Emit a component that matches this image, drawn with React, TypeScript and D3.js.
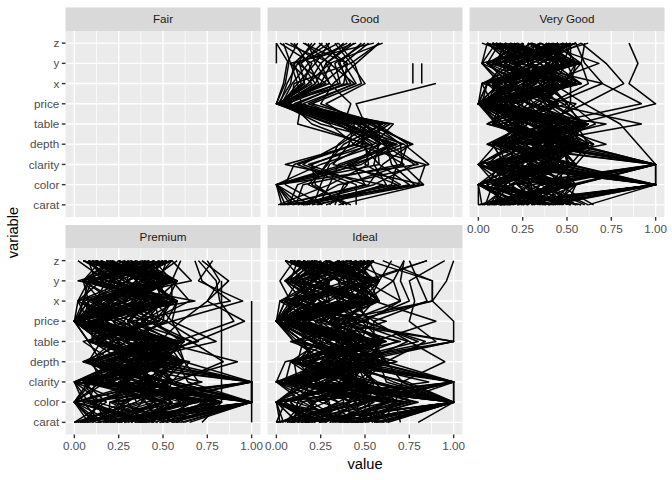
import React, { useEffect, useRef } from "react";
import * as d3 from "d3";

// values are scaled 0..100 (shown as 0..1); order follows `variables`
const variables = ["carat", "color", "clarity", "depth", "table", "price", "x", "y", "z"];
const cuts = ["Fair", "Good", "Very Good", "Premium", "Ideal"];
const xTicks = [0, 0.25, 0.5, 0.75, 1];
const xMinor = [0.125, 0.375, 0.625, 0.875];

const fairRows: (number | null)[][] = [];

const goodRows: (number | null)[][] = [
  [8, 0, 48, 66, 48, 2, 14, 10, 22],
  [21, 25, 30, 52, 35, 1, 30, 25, 8],
  [4, 83, 71, 70, 55, 3, 9, 18, 40],
  [30, 40, 12, 45, 62, 12, 38, 40, 15],
  [12, 55, 78, 60, 40, 1, 20, 8, 55],
  [3, 0, 42, 77, 52, 2, 6, 12, 30],
  [17, 62, 55, 58, 58, 5, 25, 31, 5],
  [26, 5, 10, 44, 30, 0, 42, 35, 48],
  [6, 78, 65, 62, 45, 3, 12, 22, 18],
  [40, 20, 28, 38, 60, 20, 48, 44, 35],
  [14, 35, 86, 72, 38, 1, 18, 30, 60],
  [2, 50, 18, 55, 66, 0, 4, 6, 12],
  [19, 0, 58, 48, 50, 6, 35, 28, 42],
  [9, 68, 40, 68, 25, 2, 15, 20, 2],
  [35, 83, 32, 41, 44, 15, 45, 38, 52],
  [11, 15, 70, 74, 57, 3, 22, 14, 26],
  [24, 30, 52, 50, 20, 8, 10, 42, 33],
  [5, 0, 80, 63, 46, 1, 28, 12, 20],
  [45, 45, 15, 36, 53, 25, 32, 45, 58],
  [15, 75, 58, 57, 35, 4, 24, 18, 10],
  [7, 12, 45, 71, 49, 1, 8, 10, 45],
  [28, 60, 5, 46, 64, 10, 40, 36, 28],
  [13, 0, 25, 59, 42, 2, 18, 25, 38],
  [33, 38, 72, 52, 12, 14, 12, 8, 4],
  [3, 52, 60, 76, 54, 0, 36, 33, 50],
  [20, 80, 84, 43, 59, 7, 26, 40, 24],
  [10, 0, 38, 65, 37, 2, 16, 13, 35],
  [38, 22, 20, 49, 47, 18, 44, 30, 16],
  [16, 65, 68, 61, 50, 5, 22, 28, 44],
  [1, 30, 35, 68, 32, 0, 5, 7, 0],
  [23, 70, 50, 54, 38, 42, 30, 22, 30],
  [15, 50, 43, 58, 50, 45, 90, null, null],
  [42, 18, 29, 35, 48, 28, 50, 42, 58],
  [null, null, null, null, null, null, 77, 77, null],
  [null, null, null, null, null, null, 82, 82, null],
  [null, null, null, null, null, null, null, 0, 0],
];

const veryGoodRows: (number | null)[][] = [
  [5, 100, 12, 38, 20, 0, 44, 8, 30],
  [32, 8, 45, 15, 52, 28, 10, 40, 5],
  [18, 40, 0, 55, 8, 12, 33, 22, 48],
  [47, 22, 100, 30, 41, 3, 55, 50, 18],
  [2, 55, 28, 48, 35, 0, 5, 15, 40],
  [25, 0, 38, 22, 60, 40, 28, 52, 12],
  [40, 100, 52, 8, 25, 18, 48, 30, 52],
  [10, 30, 20, 62, 45, 0, 18, 5, 25],
  [55, 12, 48, 40, 12, 50, 38, 68, 35],
  [22, 47, 5, 28, 55, 8, 2, 25, 8],
  [8, 18, 100, 52, 30, 22, 40, 45, 22],
  [36, 100, 35, 18, 48, 0, 22, 12, 55],
  [15, 5, 55, 45, 5, 35, 50, 35, 2],
  [60, 35, 15, 72, 38, 10, 12, 48, 42],
  [3, 50, 42, 10, 58, 0, 30, 20, 15],
  [28, 0, 25, 35, 22, 45, 8, 55, 28],
  [45, 25, 0, 55, 50, 5, 45, 10, 50],
  [12, 100, 50, 25, 15, 28, 25, 40, 10],
  [33, 42, 10, 48, 62, 0, 55, 28, 32],
  [6, 15, 32, 5, 28, 15, 15, 2, 45],
  [50, 55, 100, 38, 66, 52, 35, 50, 20],
  [20, 0, 22, 58, 10, 2, 5, 30, 55],
  [38, 28, 45, 12, 55, 30, 48, 18, 5],
  [14, 100, 8, 42, 35, 0, 20, 55, 38],
  [0, 45, 38, 30, 20, 40, 40, 8, 22],
  [42, 10, 55, 65, 48, 12, 10, 42, 48],
  [25, 35, 0, 20, 58, 0, 52, 25, 12],
  [9, 52, 28, 50, 8, 25, 28, 52, 30],
  [58, 0, 15, 8, 40, 55, 2, 35, 58],
  [30, 100, 100, 45, 30, 8, 45, 15, 18],
  [17, 20, 40, 32, 62, 0, 12, 48, 42],
  [48, 38, 5, 58, 18, 42, 70, 22, 8],
  [4, 8, 52, 15, 45, 18, 32, 5, 35],
  [35, 48, 18, 40, 25, 0, 18, 40, 50],
  [22, 100, 35, 62, 55, 32, 50, 30, 25],
  [52, 0, 48, 25, 12, 10, 8, 58, 10],
  [11, 30, 22, 52, 38, 0, 38, 12, 45],
  [40, 15, 0, 10, 60, 48, 25, 45, 30],
  [7, 55, 45, 38, 22, 5, 55, 25, 55],
  [28, 42, 100, 55, 48, 22, 15, 50, 15],
  [62, 100, 30, 20, 35, 60, 42, 35, 40],
  [15, 5, 12, 45, 52, 0, 5, 18, 22],
  [44, 25, 52, 62, 15, 35, 48, 55, 48],
  [1, 50, 8, 28, 42, 2, 28, 2, 5],
  [32, 18, 38, 48, 58, 15, 58, 30, 35],
  [20, 0, 55, 12, 28, 0, 12, 52, 52],
  [55, 38, 20, 35, 8, 45, 35, 22, 62],
  [12, 100, 42, 58, 50, 10, 22, 40, 8],
  [38, 10, 0, 22, 20, 0, 45, 10, 42],
  [6, 45, 28, 42, 62, 28, 8, 48, 28],
  [46, 30, 100, 5, 38, 12, 52, 25, 55],
  [24, 52, 15, 52, 15, 0, 20, 55, 15],
  [0, 0, 48, 30, 55, 38, 35, 15, 35],
  [35, 22, 32, 65, 30, 5, 10, 35, 50],
  [16, 100, 5, 18, 45, 22, 55, 5, 12],
  [50, 40, 50, 48, 10, 0, 25, 52, 40],
  [10, 12, 22, 38, 58, 50, 40, 28, 25],
  [30, 55, 100, 10, 25, 18, 5, 45, 5],
  [58, 0, 38, 55, 40, 0, 50, 18, 55],
  [19, 28, 0, 25, 52, 32, 18, 58, 30],
  [42, 100, 45, 45, 18, 8, 32, 10, 18],
  [3, 18, 12, 60, 35, 0, 58, 42, 45],
  [27, 48, 55, 15, 60, 42, 15, 22, 10],
  [52, 8, 28, 42, 22, 15, 42, 50, 38],
  [13, 35, 100, 32, 48, 0, 28, 15, 52],
  [40, 0, 40, 58, 5, 25, 8, 35, 22],
  [8, 100, 18, 20, 42, 52, 52, 55, 8],
  [34, 22, 50, 50, 28, 2, 22, 5, 48],
  [65, 45, 8, 35, 55, 100, 85, 90, 85],
  [21, 15, 35, 8, 38, 10, 38, 28, 28],
  [45, 52, 0, 62, 15, 0, 12, 48, 12],
  [2, 0, 45, 40, 50, 35, 45, 20, 55],
  [30, 30, 22, 28, 62, 0, 2, 52, 35],
  [14, 100, 100, 55, 20, 20, 55, 10, 15],
  [48, 10, 15, 12, 45, 8, 30, 42, 50],
  [25, 42, 52, 45, 30, 45, 18, 22, 5],
  [56, 25, 30, 25, 72, 0, 48, 58, 42],
  [5, 50, 5, 60, 8, 15, 8, 30, 22],
  [38, 0, 42, 35, 40, 28, 35, 12, 30],
  [17, 100, 20, 50, 55, 0, 22, 48, 52],
  [62, 38, 100, 90, 80, 60, 82, 72, 58],
  [9, 12, 38, 18, 25, 38, 12, 2, 10],
  [43, 55, 12, 48, 50, 5, 58, 38, 40],
  [26, 0, 48, 30, 12, 0, 25, 55, 18],
  [52, 30, 0, 58, 38, 92, 70, 60, 55],
  [12, 100, 28, 22, 60, 12, 42, 20, 45],
  [35, 18, 55, 42, 22, 30, 5, 45, 8],
  [0, 45, 15, 8, 48, 0, 30, 28, 35],
  [28, 8, 35, 55, 32, 18, 50, 10, 25],
  [40, 52, 100, 28, 92, 40, 62, 58, 60],
];

const premiumRows: (number | null)[][] = [
  [12, 100, 30, 45, 8, 0, 40, 15, 35],
  [40, 0, 8, 20, 55, 25, 5, 48, 10],
  [3, 28, 52, 58, 30, 0, 28, 30, 50],
  [28, 68, 15, 10, 42, 40, 50, 5, 22],
  [52, 45, 100, 38, 18, 8, 15, 55, 45],
  [18, 12, 40, 62, 58, 0, 58, 22, 8],
  [35, 100, 0, 28, 25, 18, 20, 40, 30],
  [7, 50, 28, 48, 50, 0, 35, 10, 55],
  [45, 20, 55, 65, 12, 32, 8, 52, 15],
  [22, 83, 10, 35, 60, 12, 45, 35, 40],
  [0, 38, 45, 55, 35, 0, 12, 18, 2],
  [58, 72, 22, 22, 5, 48, 55, 45, 48],
  [15, 5, 100, 42, 45, 5, 22, 58, 25],
  [32, 55, 35, 15, 52, 0, 68, 8, 38],
  [48, 100, 5, 60, 28, 40, 10, 38, 12],
  [10, 30, 48, 30, 58, 15, 48, 25, 50],
  [38, 0, 18, 52, 15, 0, 30, 52, 20],
  [25, 62, 42, 8, 40, 28, 2, 15, 42],
  [5, 15, 0, 45, 22, 0, 55, 42, 5],
  [55, 48, 30, 25, 70, 52, 25, 5, 55],
  [20, 100, 100, 62, 10, 10, 38, 30, 30],
  [42, 8, 12, 38, 48, 0, 15, 55, 18],
  [2, 35, 55, 12, 35, 35, 50, 20, 45],
  [30, 78, 25, 50, 60, 5, 8, 45, 8],
  [60, 22, 45, 28, 20, 55, 45, 12, 52],
  [14, 52, 8, 55, 42, 0, 20, 35, 22],
  [36, 100, 38, 5, 30, 22, 58, 2, 40],
  [8, 0, 100, 40, 52, 0, 30, 50, 12],
  [50, 40, 20, 60, 12, 40, 12, 66, 55],
  [26, 65, 50, 20, 45, 12, 52, 58, 28],
  [0, 18, 5, 48, 28, 0, 5, 10, 35],
  [44, 55, 40, 32, 58, 30, 40, 40, 5],
  [17, 100, 15, 58, 38, 2, 25, 22, 48],
  [33, 10, 52, 15, 8, 45, 55, 55, 20],
  [6, 45, 28, 45, 50, 0, 15, 5, 32],
  [56, 74, 0, 25, 35, 18, 48, 38, 50],
  [20, 25, 70, 62, 55, 8, 2, 30, 15],
  [40, 83, 35, 8, 22, 0, 35, 52, 42],
  [11, 0, 48, 52, 45, 38, 58, 18, 8],
  [48, 100, 12, 35, 60, 5, 20, 45, 55],
  [29, 38, 42, 50, 15, 0, 42, 12, 25],
  [3, 60, 22, 18, 42, 25, 10, 58, 38],
  [53, 12, 55, 42, 30, 50, 52, 28, 10],
  [22, 50, 5, 60, 52, 0, 28, 48, 52],
  [37, 100, 100, 28, 10, 15, 5, 8, 22],
  [9, 30, 30, 45, 58, 0, 50, 35, 45],
  [45, 0, 45, 10, 25, 42, 32, 55, 12],
  [16, 70, 18, 55, 48, 2, 15, 20, 35],
  [62, 40, 38, 32, 62, 55, 58, 42, 58],
  [27, 8, 0, 48, 18, 0, 22, 5, 28],
  [4, 100, 52, 22, 38, 30, 45, 52, 8],
  [42, 55, 25, 58, 45, 8, 8, 30, 42],
  [19, 20, 100, 5, 55, 0, 38, 15, 50],
  [34, 80, 8, 40, 30, 22, 55, 45, 18],
  [58, 45, 42, 55, 8, 48, 18, 58, 32],
  [12, 0, 15, 25, 52, 0, 30, 25, 5],
  [38, 100, 50, 62, 40, 35, 50, 10, 55],
  [0, 35, 30, 15, 60, 0, 2, 42, 25],
  [50, 83, 5, 42, 22, 18, 40, 35, 40],
  [24, 100, 64, 58, 35, 5, 25, 55, 12],
  [6, 15, 40, 30, 50, 0, 52, 20, 48],
  [46, 66, 20, 8, 15, 40, 12, 48, 30],
  [30, 50, 55, 48, 58, 12, 45, 8, 52],
  [15, 0, 10, 20, 42, 0, 20, 38, 15],
  [55, 100, 35, 62, 28, 52, 58, 22, 45],
  [20, 28, 0, 35, 55, 2, 5, 55, 25],
  [72, 83, 52, 92, 48, 60, 75, 87, 72],
  [40, 75, 25, 50, 8, 28, 35, 30, 55],
  [8, 40, 100, 12, 45, 0, 48, 12, 8],
  [35, 10, 45, 55, 38, 18, 15, 50, 40],
  [52, 100, 12, 28, 60, 45, 42, 5, 20],
  [1, 55, 38, 45, 25, 0, 28, 42, 50],
  [28, 63, 50, 5, 52, 10, 55, 28, 12],
  [44, 5, 0, 58, 15, 0, 8, 55, 35],
  [13, 100, 30, 40, 40, 32, 38, 18, 55],
  [58, 22, 72, 22, 58, 8, 50, 45, 5],
  [25, 45, 18, 52, 30, 0, 18, 35, 28],
  [5, 70, 42, 15, 48, 22, 2, 8, 42],
  [47, 0, 8, 60, 12, 48, 45, 58, 18],
  [18, 83, 55, 35, 55, 0, 30, 25, 52],
  [38, 30, 28, 8, 38, 15, 58, 40, 32],
  [60, 100, 100, 50, 62, 42, 20, 52, 10],
  [10, 12, 5, 28, 25, 0, 42, 15, 45],
  [32, 60, 45, 58, 45, 5, 12, 48, 25],
  [50, 52, 22, 18, 55, 35, 52, 30, 55],
  [22, 0, 38, 42, 8, 0, 8, 5, 15],
  [58, 83, 43, 31, 80, 55, 95, 70, 78],
  [65, 100, 29, 36, 68, 96, 75, 82, 75],
  [62, 100, 57, 40, 58, 90, 82, 80, 70],
  [55, 100, 57, 84, 66, 42, 65, 55, 60],
  [46, 67, 14, 46, 66, 32, 88, 72, 68],
  [100, 100, 100, 100, 100, 100, 100, null, null],
  [null, 83, 83, 83, 83, 83, 83, 83, null],
];

const idealRows: (number | null)[][] = [
  [20, 72, 5, 38, 45, 0, 52, 10, 28],
  [5, 15, 48, 12, 22, 35, 8, 55, 45],
  [42, 40, 100, 55, 58, 8, 30, 25, 8],
  [12, 0, 20, 28, 10, 0, 45, 40, 50],
  [55, 100, 38, 48, 38, 45, 15, 5, 20],
  [28, 30, 0, 5, 55, 10, 58, 48, 35],
  [0, 52, 55, 42, 30, 0, 22, 30, 5],
  [35, 64, 12, 62, 48, 28, 40, 15, 55],
  [15, 8, 42, 22, 15, 0, 5, 58, 22],
  [48, 45, 28, 50, 60, 40, 50, 66, 40],
  [8, 100, 100, 35, 25, 5, 28, 8, 12],
  [38, 20, 8, 58, 42, 0, 12, 52, 48],
  [22, 0, 50, 15, 70, 22, 55, 22, 30],
  [60, 100, 22, 40, 8, 50, 35, 45, 10],
  [3, 38, 35, 55, 40, 0, 2, 28, 52],
  [30, 55, 5, 8, 58, 15, 48, 10, 25],
  [45, 78, 45, 45, 20, 0, 20, 55, 42],
  [10, 12, 100, 30, 52, 30, 42, 38, 8],
  [52, 60, 15, 60, 35, 8, 8, 18, 55],
  [25, 0, 52, 20, 48, 0, 52, 50, 18],
  [80, 100, 43, 30, 100, 100, 88, 96, 100],
  [18, 42, 25, 52, 12, 42, 25, 5, 38],
  [40, 100, 0, 35, 55, 5, 58, 42, 12],
  [6, 22, 40, 12, 38, 0, 15, 25, 50],
  [50, 50, 10, 68, 28, 25, 40, 55, 28],
  [32, 68, 55, 25, 60, 0, 5, 12, 45],
  [0, 5, 30, 48, 42, 18, 48, 48, 5],
  [44, 100, 66, 40, 15, 48, 28, 30, 40],
  [14, 35, 18, 62, 50, 0, 55, 8, 22],
  [58, 0, 48, 10, 30, 35, 12, 58, 52],
  [24, 75, 5, 45, 58, 10, 38, 35, 15],
  [9, 48, 38, 30, 22, 0, 52, 20, 35],
  [36, 15, 0, 55, 45, 28, 20, 45, 55],
  [62, 100, 71, 95, 75, 55, 85, 80, 75],
  [16, 100, 52, 18, 35, 0, 8, 2, 10],
  [46, 28, 22, 42, 58, 40, 70, 50, 42],
  [2, 0, 100, 52, 10, 0, 30, 28, 25],
  [30, 62, 12, 35, 48, 15, 58, 12, 50],
  [54, 52, 45, 8, 25, 62, 15, 55, 8],
  [20, 8, 28, 60, 55, 0, 42, 38, 38],
  [38, 100, 0, 28, 40, 22, 2, 22, 20],
  [7, 40, 55, 45, 15, 0, 50, 48, 52],
  [48, 70, 35, 15, 60, 8, 25, 8, 30],
  [26, 0, 15, 58, 38, 35, 52, 58, 12],
  [70, 67, 100, 33, 90, 75, 78, 75, 95],
  [12, 22, 42, 38, 45, 0, 10, 30, 45],
  [42, 100, 8, 52, 22, 18, 45, 15, 5],
  [1, 50, 100, 20, 58, 0, 35, 52, 35],
  [34, 0, 25, 48, 30, 45, 8, 25, 55],
  [56, 66, 50, 12, 48, 5, 58, 42, 22],
  [18, 35, 5, 62, 12, 0, 22, 5, 40],
  [40, 100, 38, 35, 55, 30, 42, 55, 15],
  [10, 12, 20, 45, 35, 0, 55, 35, 50],
  [50, 100, 74, 25, 60, 48, 15, 20, 30],
  [28, 45, 0, 55, 20, 10, 48, 48, 8],
  [4, 0, 48, 30, 45, 0, 28, 12, 42],
  [36, 80, 30, 58, 28, 25, 5, 40, 55],
  [60, 25, 12, 10, 55, 55, 40, 58, 65],
  [16, 100, 55, 42, 40, 0, 52, 22, 12],
  [48, 100, 0, 46, 100, 34, 58, 52, 85],
  [24, 52, 22, 20, 15, 15, 18, 45, 48],
  [44, 0, 42, 52, 58, 0, 45, 10, 35],
  [8, 63, 8, 35, 30, 38, 2, 55, 20],
  [56, 100, 14, 50, 74, 42, 88, 88, 60],
  [32, 18, 100, 62, 48, 5, 35, 28, 52],
  [12, 100, 35, 15, 22, 0, 55, 38, 5],
  [52, 40, 50, 45, 55, 28, 20, 15, 40],
  [20, 0, 18, 28, 38, 0, 42, 52, 28],
  [42, 72, 0, 55, 10, 48, 10, 30, 55],
  [2, 28, 45, 40, 58, 8, 58, 5, 18],
  [63, 100, 71, 34, 80, 50, 70, 66, 72],
  [34, 55, 25, 8, 42, 0, 28, 48, 45],
  [14, 100, 62, 58, 25, 22, 48, 22, 10],
  [48, 10, 8, 30, 52, 40, 5, 58, 35],
  [26, 65, 40, 48, 35, 0, 38, 35, 50],
  [6, 42, 15, 18, 60, 12, 52, 8, 22],
  [40, 0, 52, 55, 20, 0, 15, 42, 42],
  [58, 100, 30, 25, 48, 52, 45, 55, 12],
  [18, 20, 0, 42, 30, 0, 22, 18, 55],
  [36, 76, 48, 62, 55, 30, 58, 45, 28],
  [0, 48, 22, 12, 15, 0, 12, 28, 8],
  [46, 100, 100, 38, 45, 15, 40, 5, 48],
  [22, 5, 38, 55, 58, 0, 30, 52, 30],
  [54, 68, 10, 20, 35, 45, 55, 35, 20],
  [10, 35, 55, 48, 22, 5, 8, 20, 52],
  [38, 100, 28, 35, 52, 0, 48, 58, 15],
  [28, 0, 45, 60, 40, 25, 20, 12, 42],
  [50, 60, 5, 28, 62, 38, 52, 42, 55],
  [16, 52, 100, 45, 15, 0, 35, 25, 10],
  [44, 100, 42, 8, 55, 90, 55, 40, 48],
  [60, 67, 71, 62, 84, 48, 75, 70, 72],
  [42, 100, 57, 39, 100, 26, 51, 49, 85],
  [46, 0, 86, 37, 68, 32, 88, 88, 52],
];

const rowsByCut = [fairRows, goodRows, veryGoodRows, premiumRows, idealRows];

const FONT = "'Liberation Sans', Arial, sans-serif";

export default function App() {
  const ref = useRef<SVGSVGElement>(null);

  useEffect(() => {
    const width = 672;
    const height = 480;
    const left = 65.5;
    const panelW = 195;
    const gap = 7;
    const top = 7.5;
    const stripH = 23.5;
    const panelH = 186;

    const svg = d3.select(ref.current);
    svg.selectAll("*").remove();
    svg.attr("width", width).attr("height", height);
    svg.append("rect").attr("width", width).attr("height", height).attr("fill", "white");

    cuts.forEach((cut, i) => {
      const col = i % 3;
      const row = Math.floor(i / 3);
      const x0 = left + col * (panelW + gap);
      const sy = top + row * (stripH + panelH + gap + 1);
      const py = sy + stripH;

      const x = d3.scaleLinear().domain([-0.05, 1.05]).range([x0, x0 + panelW]);
      const y = d3
        .scalePoint<string>()
        .domain(variables)
        .range([py + panelH, py])
        .padding(0.6);

      const g = svg.append("g");

      // strip
      g.append("rect")
        .attr("x", x0)
        .attr("y", sy)
        .attr("width", panelW)
        .attr("height", stripH)
        .attr("fill", "#D9D9D9");
      g.append("text")
        .attr("x", x0 + panelW / 2)
        .attr("y", sy + stripH / 2)
        .attr("dy", "0.35em")
        .attr("text-anchor", "middle")
        .attr("font-family", FONT)
        .attr("font-size", 11.7)
        .attr("fill", "#1A1A1A")
        .text(cut);

      // panel + grid
      g.append("rect")
        .attr("x", x0)
        .attr("y", py)
        .attr("width", panelW)
        .attr("height", panelH)
        .attr("fill", "#EBEBEB");
      g.selectAll(".minor")
        .data(xMinor)
        .join("line")
        .attr("x1", (d) => x(d))
        .attr("x2", (d) => x(d))
        .attr("y1", py)
        .attr("y2", py + panelH)
        .attr("stroke", "white")
        .attr("stroke-width", 0.71);
      g.selectAll(".majx")
        .data(xTicks)
        .join("line")
        .attr("x1", (d) => x(d))
        .attr("x2", (d) => x(d))
        .attr("y1", py)
        .attr("y2", py + panelH)
        .attr("stroke", "white")
        .attr("stroke-width", 1.42);
      g.selectAll(".majy")
        .data(variables)
        .join("line")
        .attr("x1", x0)
        .attr("x2", x0 + panelW)
        .attr("y1", (d) => y(d)!)
        .attr("y2", (d) => y(d)!)
        .attr("stroke", "white")
        .attr("stroke-width", 1.42);

      // paths
      const line = d3
        .line<number | null>()
        .defined((d) => d != null)
        .x((d) => x((d as number) / 100))
        .y((_, j) => y(variables[j])!);

      g.append("g")
        .selectAll("path")
        .data(rowsByCut[i])
        .join("path")
        .attr("d", (d) => line(d))
        .attr("fill", "none")
        .attr("stroke", "black")
        .attr("stroke-width", 1.5)
        .attr("stroke-linejoin", "round");

      // y axis on first column
      if (col === 0) {
        const ya = g.append("g");
        ya.selectAll("line")
          .data(variables)
          .join("line")
          .attr("x1", x0 - 3.7)
          .attr("x2", x0)
          .attr("y1", (d) => y(d)!)
          .attr("y2", (d) => y(d)!)
          .attr("stroke", "#333333")
          .attr("stroke-width", 1.42);
        ya.selectAll("text")
          .data(variables)
          .join("text")
          .attr("x", x0 - 6.2)
          .attr("y", (d) => y(d)!)
          .attr("dy", "0.35em")
          .attr("text-anchor", "end")
          .attr("font-family", FONT)
          .attr("font-size", 11.7)
          .attr("fill", "#4D4D4D")
          .text((d) => d);
      }

      // x axis where no panel sits below
      if (i + 3 >= cuts.length) {
        const xa = g.append("g");
        const yb = py + panelH;
        xa.selectAll("line")
          .data(xTicks)
          .join("line")
          .attr("x1", (d) => x(d))
          .attr("x2", (d) => x(d))
          .attr("y1", yb)
          .attr("y2", yb + 3.7)
          .attr("stroke", "#333333")
          .attr("stroke-width", 1.42);
        xa.selectAll("text")
          .data(xTicks)
          .join("text")
          .attr("x", (d) => x(d))
          .attr("y", yb + 15.8)
          .attr("text-anchor", "middle")
          .attr("font-family", FONT)
          .attr("font-size", 11.7)
          .attr("fill", "#4D4D4D")
          .text((d) => d3.format(".2f")(d));
      }
    });

    // axis titles
    svg.append("text")
      .attr("x", left + (3 * panelW + 2 * gap) / 2)
      .attr("y", 469)
      .attr("text-anchor", "middle")
      .attr("font-family", FONT)
      .attr("font-size", 14.7)
      .attr("fill", "black")
      .text("value");
    svg.append("text")
      .attr("transform", `translate(18,232.5) rotate(-90)`)
      .attr("text-anchor", "middle")
      .attr("font-family", FONT)
      .attr("font-size", 14.7)
      .attr("fill", "black")
      .text("variable");
  }, []);

  return <svg ref={ref} style={{ position: "absolute", left: 0, top: 0, display: "block" }} />;
}
